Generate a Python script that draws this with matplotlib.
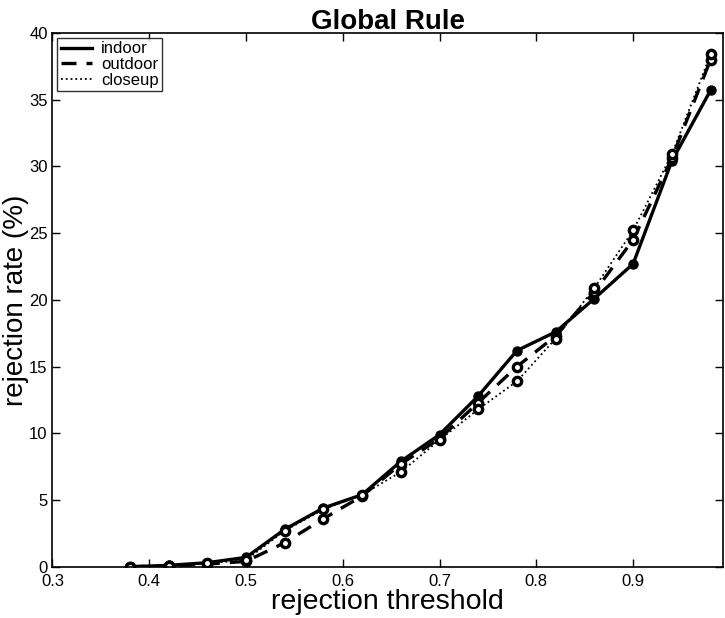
import numpy as np
import matplotlib
matplotlib.use('Agg')
import matplotlib.pyplot as plt

plt.rcParams['font.family'] = ['Liberation Sans', 'DejaVu Sans']

# rejection threshold values
thresholds = [0.38, 0.42, 0.46, 0.50, 0.54, 0.58, 0.62, 0.66,
              0.70, 0.74, 0.78, 0.82, 0.86, 0.90, 0.94, 0.98]
indoor = [0.0, 0.1, 0.3, 0.7, 2.8, 4.4, 5.4, 7.9,
          9.9, 12.8, 16.2, 17.6, 20.1, 22.7, 30.4, 35.7]
outdoor = [0.0, 0.05, 0.2, 0.4, 1.8, 3.6, 5.3, 7.7,
           9.6, 12.3, 15.0, 17.3, 20.6, 24.5, 30.6, 38.0]
closeup = [0.0, 0.05, 0.25, 0.5, 2.7, 4.3, 5.4, 7.1,
           9.5, 11.8, 13.9, 17.1, 20.9, 25.2, 30.9, 38.4]

fig = plt.figure(figsize=(7.25, 6.18), dpi=100)
ax = fig.add_axes([0.0724, 0.083, 0.925, 0.8636])

ax.plot(thresholds, indoor, '-', color='k', lw=2.4, label='indoor',
        marker='o', ms=6.5, mfc='k', mec='k')
ax.plot(thresholds, outdoor, '--', color='k', lw=2.4, label='outdoor',
        dashes=(4.5, 3), marker='o', ms=6, mfc='white', mec='k', mew=2.4)
ax.plot(thresholds, closeup, ':', color='k', lw=1.3, label='closeup',
        marker='o', ms=6, mfc='white', mec='k', mew=2.4)

ax.set_xlim(0.3, 0.993)
ax.set_ylim(0, 40)
ax.set_xticks(np.arange(0.3, 0.95, 0.1))
ax.set_xticklabels(['0.3', '0.4', '0.5', '0.6', '0.7', '0.8', '0.9'])
ax.set_yticks(np.arange(0, 41, 5))
ax.tick_params(direction='in', top=True, right=True, labelsize=12, length=6, width=1)
ax.tick_params(axis='x', pad=5)
for s in ax.spines.values():
    s.set_linewidth(1.2)

ax.set_xlabel('rejection threshold', fontsize=20.5, labelpad=0)
ax.set_ylabel('rejection rate (%)', fontsize=20, labelpad=0)
ax.set_title('Global Rule', fontsize=20, fontweight='bold', pad=3)

leg = ax.legend(loc='upper left', fontsize=12, handlelength=1.9,
                handletextpad=0.5, frameon=True, fancybox=False, edgecolor='k',
                borderaxespad=0.3, labelspacing=0.05, borderpad=0.2)
leg.get_frame().set_linewidth(1.0)
for h in leg.legend_handles:
    h.set_marker('')

fig.savefig('out.png', dpi=100)
